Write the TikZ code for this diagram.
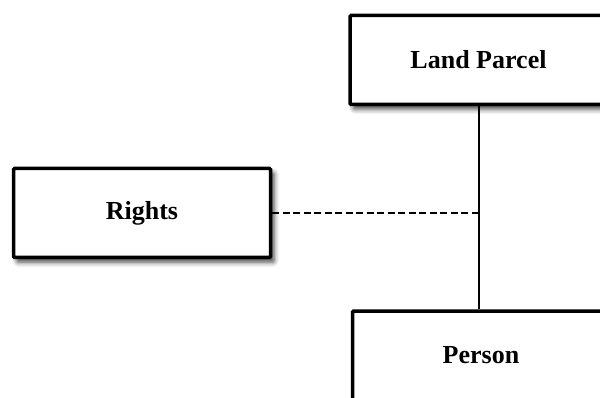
\documentclass[tikz,border=0pt]{standalone}
\usepackage{fontspec}
\setmainfont{Liberation Serif}
\usetikzlibrary{shadows.blur}

\tikzset{
  entity/.style={draw, line width=3.5pt, fill=white, rounded corners=1.2pt,
    minimum width=257pt, minimum height=89pt, inner sep=0pt,
    font=\fontsize{26}{30}\selectfont\bfseries,
    blur shadow={shadow xshift=3.5pt, shadow yshift=-4.5pt,
      shadow blur radius=5pt, shadow opacity=75}},
  link/.style={draw, line width=2pt},
  partlink/.style={link, dash pattern=on 7pt off 3.5pt}
}

\begin{document}
\begin{tikzpicture}[x=1pt, y=-1pt]
  \useasboundingbox (0,0) rectangle (600,398);
  \clip (0,0) rectangle (600,398);

  % entities
  \node[entity] (parcel) at (478.5,60)  {Land Parcel};
  \node[entity] (rights) at (142,213)   {Rights};
  \node[entity] (person) at (481,355.5) {Person};

  % association between parcel and person
  \coordinate (join) at (parcel.south |- rights.east);
  \draw[link] (parcel.south) -- (parcel.south |- person.north);

  % association class attached to the link
  \coordinate (joinend) at ([xshift=2pt]join);
  \draw[partlink] (rights.east) -- (joinend);
\end{tikzpicture}
\end{document}
